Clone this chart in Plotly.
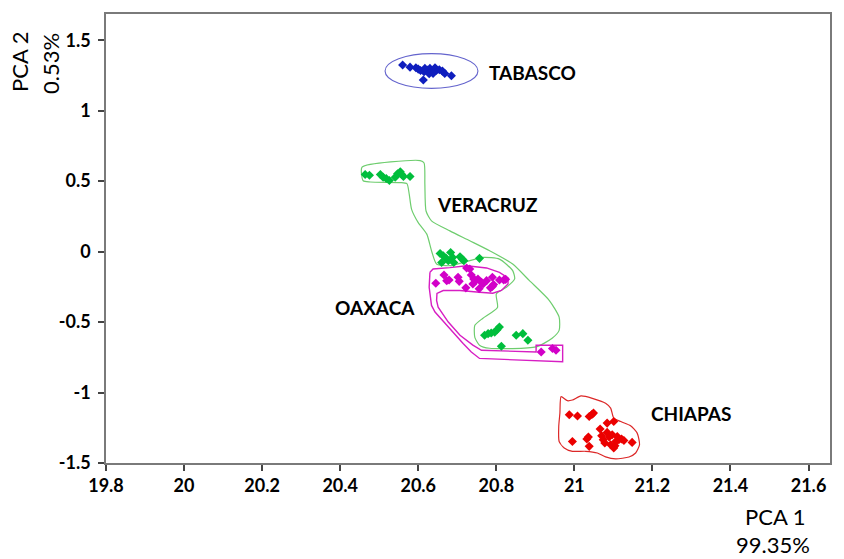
import plotly.graph_objects as go

# ---- data (PCA scores) ----
tabasco_x = [20.560, 20.579, 20.594, 20.600, 20.606, 20.615, 20.623, 20.630, 20.637, 20.643,
             20.647, 20.654, 20.662, 20.668, 20.685, 20.613, 20.628, 20.638, 20.617]
tabasco_y = [1.324, 1.309, 1.305, 1.295, 1.285, 1.276, 1.288, 1.300, 1.276, 1.305,
             1.288, 1.290, 1.281, 1.264, 1.248, 1.218, 1.262, 1.264, 1.300]

veracruz_x = [20.464, 20.475, 20.503, 20.510, 20.518, 20.526, 20.541, 20.547, 20.554, 20.558, 20.562, 20.579,
              20.656, 20.664, 20.671, 20.677, 20.660, 20.683, 20.688, 20.691, 20.707, 20.713, 20.717, 20.757,
              20.770, 20.779, 20.787, 20.796, 20.802, 20.808, 20.813, 20.851, 20.868, 20.881]
veracruz_y = [0.547, 0.542, 0.547, 0.528, 0.519, 0.505, 0.528, 0.552, 0.566, 0.547, 0.533, 0.533,
              -0.013, -0.029, -0.046, -0.065, -0.077, -0.006, -0.041, -0.077, -0.036, -0.055, -0.065, -0.048,
              -0.594, -0.582, -0.578, -0.571, -0.554, -0.535, -0.672, -0.594, -0.582, -0.629]

oaxaca_x = [20.645, 20.666, 20.673, 20.679, 20.702, 20.705, 20.722, 20.724, 20.732, 20.736, 20.742, 20.740,
            20.747, 20.753, 20.756, 20.762, 20.766, 20.775, 20.785, 20.790, 20.793, 20.808, 20.819, 20.824,
            20.790, 20.915, 20.944, 20.953]
oaxaca_y = [-0.225, -0.166, -0.206, -0.201, -0.182, -0.211, -0.257, -0.116, -0.123, -0.166, -0.194, -0.229,
            -0.206, -0.194, -0.264, -0.218, -0.229, -0.206, -0.257, -0.182, -0.234, -0.201, -0.201, -0.197,
            -0.248, -0.712, -0.688, -0.700]

chiapas_x = [20.987, 21.008, 21.038, 21.045, 21.049, 20.995, 21.032, 21.036, 21.038, 21.066, 21.074, 21.070,
             21.078, 21.084, 21.084, 21.089, 21.093, 21.097, 21.101, 21.101, 21.106, 21.110, 21.114, 21.121,
             21.127, 21.148, 21.104]
chiapas_y = [-1.158, -1.166, -1.170, -1.156, -1.146, -1.347, -1.330, -1.316, -1.382, -1.259, -1.335, -1.307,
             -1.358, -1.217, -1.283, -1.316, -1.370, -1.300, -1.206, -1.393, -1.347, -1.312, -1.335, -1.330,
             -1.340, -1.354, -1.377]

# hand-drawn group outlines (data coordinates)
veracruz_hull_x = [20.456, 20.605, 20.615, 20.617, 20.620, 20.634, 20.681, 20.732, 20.783, 20.842, 20.885,
                   20.936, 20.961, 20.961, 20.943, 20.902, 20.783, 20.757, 20.745, 20.745, 20.765, 20.803,
                   20.800, 20.826, 20.847, 20.842, 20.808, 20.766, 20.715, 20.681, 20.647, 20.634, 20.622,
                   20.600, 20.583, 20.577, 20.571, 20.554, 20.477, 20.459, 20.456]
veracruz_hull_y = [0.599, 0.646, 0.629, 0.477, 0.288, 0.218, 0.147, 0.077, 0.006, -0.088, -0.206,
                   -0.347, -0.465, -0.559, -0.615, -0.676, -0.686, -0.664, -0.608, -0.523, -0.474, -0.396,
                   -0.300, -0.253, -0.194, -0.135, -0.053, -0.041, -0.077, -0.100, -0.088, 0.006, 0.124,
                   0.206, 0.300, 0.406, 0.482, 0.490, 0.494, 0.503, 0.599]

oaxaca_hull_x = [20.630, 20.638, 20.681, 20.724, 20.775, 20.808, 20.830, 20.830, 20.813, 20.791, 20.757,
                 20.707, 20.664, 20.648, 20.647, 20.651, 20.677, 20.707, 20.740, 20.762, 20.902, 20.902,
                 20.970, 20.970, 20.757, 20.736, 20.715, 20.689, 20.664, 20.643, 20.634, 20.628, 20.630]
oaxaca_hull_y = [-0.147, -0.123, -0.114, -0.100, -0.116, -0.147, -0.187, -0.229, -0.276, -0.295, -0.288,
                 -0.276, -0.276, -0.297, -0.347, -0.394, -0.500, -0.594, -0.664, -0.700, -0.712, -0.664,
                 -0.664, -0.782, -0.758, -0.712, -0.652, -0.571, -0.500, -0.429, -0.382, -0.253, -0.147]

chiapas_hull_x = [20.966, 20.982, 20.995, 21.017, 21.046, 21.080, 21.093, 21.101, 21.119, 21.144, 21.161,
                  21.167, 21.157, 21.140, 21.106, 21.080, 21.059, 21.029, 20.995, 20.974, 20.961, 20.960,
                  20.963, 20.966]
chiapas_hull_y = [-1.029, -1.058, -1.053, -1.024, -1.041, -1.076, -1.111, -1.182, -1.206, -1.236, -1.288,
                  -1.370, -1.429, -1.457, -1.471, -1.457, -1.429, -1.417, -1.417, -1.393, -1.347, -1.241,
                  -1.146, -1.029]

tabasco_ellipse = dict(x0=20.515, x1=20.753, y0=1.158, y1=1.405)

x_ticks = [19.8, 20.0, 20.2, 20.4, 20.6, 20.8, 21.0, 21.2, 21.4, 21.6]
x_tick_text = ["19.8", "20", "20.2", "20.4", "20.6", "20.8", "21", "21.2", "21.4", "21.6"]
y_ticks = [-1.5, -1.0, -0.5, 0.0, 0.5, 1.0, 1.5]
y_tick_text = ["-1.5", "-1", "-0.5", "0", "0.5", "1", "1.5"]

group_labels = ["TABASCO", "VERACRUZ", "OAXACA", "CHIAPAS"]
label_x = [20.775, 20.643, 20.597, 21.191]
label_y = [1.269, 0.334, -0.40, -1.151]
label_anchor = ["left", "left", "right", "left"]

# ---- styling ----
BLUE = "rgb(15,30,190)"
GREEN = "rgb(0,190,60)"
GREEN_LINE = "rgb(110,205,110)"
MAGENTA = "rgb(210,0,200)"
MAGENTA_LINE = "rgb(215,30,195)"
RED = "rgb(235,0,0)"
RED_LINE = "rgb(220,40,40)"
FONT = "Lato"

fig = go.Figure()

fig.add_trace(go.Scatter(x=veracruz_hull_x, y=veracruz_hull_y, mode="lines",
                         line=dict(color=GREEN_LINE, width=1.2, shape="spline", smoothing=0.6),
                         hoverinfo="skip", showlegend=False))
fig.add_trace(go.Scatter(x=oaxaca_hull_x, y=oaxaca_hull_y, mode="lines",
                         line=dict(color=MAGENTA_LINE, width=1.4),
                         hoverinfo="skip", showlegend=False))
fig.add_trace(go.Scatter(x=chiapas_hull_x, y=chiapas_hull_y, mode="lines",
                         line=dict(color=RED_LINE, width=1.2, shape="spline", smoothing=0.6),
                         hoverinfo="skip", showlegend=False))

for xs, ys, col, name in [(tabasco_x, tabasco_y, BLUE, "TABASCO"),
                          (veracruz_x, veracruz_y, GREEN, "VERACRUZ"),
                          (oaxaca_x, oaxaca_y, MAGENTA, "OAXACA"),
                          (chiapas_x, chiapas_y, RED, "CHIAPAS")]:
    fig.add_trace(go.Scatter(x=xs, y=ys, mode="markers", name=name,
                             marker=dict(symbol="diamond", size=7, color=col,
                                         line=dict(width=0)),
                             showlegend=False))

fig.add_shape(type="circle", xref="x", yref="y", **tabasco_ellipse,
              line=dict(color="rgb(100,100,205)", width=1.1))

for txt, lx, ly, anc in zip(group_labels, label_x, label_y, label_anchor):
    fig.add_annotation(x=lx, y=ly, xref="x", yref="y", text=txt, showarrow=False,
                       xanchor=anc, yanchor="middle",
                       font=dict(family=FONT, size=19, color="black", weight="bold"))

# axis titles
fig.add_annotation(x=-0.1185, y=0.8936, xref="paper", yref="paper", text="PCA 2",
                   showarrow=False, textangle=-90, xanchor="center", yanchor="middle",
                   font=dict(family=FONT, size=22, color="black"))
fig.add_annotation(x=-0.0758, y=0.8891, xref="paper", yref="paper", text="0.53%",
                   showarrow=False, textangle=-90, xanchor="center", yanchor="middle",
                   font=dict(family=FONT, size=22, color="black"))
fig.add_annotation(x=0.9242, y=-0.1197, xref="paper", yref="paper", text="PCA 1",
                   showarrow=False, xanchor="center", yanchor="middle",
                   font=dict(family=FONT, size=22, color="black"))
fig.add_annotation(x=0.9215, y=-0.1808, xref="paper", yref="paper", text="99.35%",
                   showarrow=False, xanchor="center", yanchor="middle",
                   font=dict(family=FONT, size=22, color="black"))

axis_common = dict(showgrid=False, zeroline=False, showline=True, mirror=True,
                   linecolor="#7a7a7a", linewidth=1.5, ticks="outside",
                   tickcolor="#444444", tickwidth=1.5,
                   tickfont=dict(family=FONT, size=18, color="black", weight="bold"))

fig.update_xaxes(range=[19.8, 21.655], tickvals=x_ticks, ticktext=x_tick_text,
                 ticklen=6, **axis_common)
fig.update_yaxes(range=[-1.5, 1.686], tickvals=y_ticks, ticktext=y_tick_text,
                 ticklen=6, ticklabelstandoff=4, **axis_common)

fig.update_layout(width=844, height=559,
                  margin=dict(l=106, r=12, t=12, b=96),
                  paper_bgcolor="white", plot_bgcolor="white")

fig.write_html("out.html", config={"displayModeBar": False},
               post_script="document.body.style.margin='0';")
